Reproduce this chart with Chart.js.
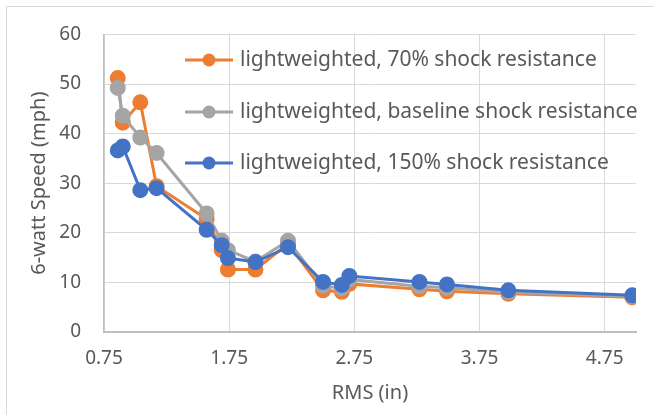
<!DOCTYPE html>
<html>
<head>
<meta charset="utf-8">
<script src="https://cdn.jsdelivr.net/npm/chart.js@4/dist/chart.umd.min.js"></script>
<style>
  html, body { margin: 0; padding: 0; background: #fff; }
  #wrap { width: 654px; height: 415px; }
</style>
</head>
<body>
<div id="wrap"><canvas id="myChart" width="654" height="415"></canvas></div>
<script>
// RMS values (in), same for every series
const rms = [0.86, 0.90, 1.04, 1.17, 1.57, 1.69, 1.74, 1.96, 2.22, 2.50, 2.65, 2.71, 3.27, 3.49, 3.98, 4.97];
const speed70 = [51.2, 42.2, 46.3, 29.4, 22.8, 16.5, 12.6, 12.6, 17.8, 8.4, 8.1, 9.7, 8.6, 8.2, 7.7, 7.0];
const speedBase = [49.2, 43.6, 39.2, 36.1, 23.9, 18.4, 16.5, 14.2, 18.4, 9.3, 8.8, 10.6, 9.2, 8.9, 8.0, 7.2];
const speed150 = [36.6, 37.4, 28.6, 29.0, 20.6, 17.5, 14.9, 14.1, 17.1, 10.1, 9.5, 11.3, 10.1, 9.6, 8.4, 7.4];
const seriesNames = ['lightweighted, 70% shock resistance', 'lightweighted, baseline shock resistance', 'lightweighted, 150% shock resistance'];
const xTicks = [0.75, 1.75, 2.75, 3.75, 4.75];
const yTicks = [0, 10, 20, 30, 40, 50, 60];

const FONT = 'Noto Sans';
const txt = '#595959';

function pts(ys){
  return ys.map((y,i) => ({x: rms[i], y: y}));
}

function mkset(name, ys, color, order){
  return {
    label: name,
    data: pts(ys),
    borderColor: color,
    backgroundColor: color,
    pointBackgroundColor: color,
    pointBorderColor: color,
    borderWidth: 3,
    pointRadius: 6.5,
    pointHoverRadius: 6.5,
    showLine: true,
    tension: 0,
    order: order
  };
}

// legend drawn inside the plot, like the excel one
const insideLegend = {
  id: 'insideLegend',
  afterDatasetsDraw(chart){
    const ctx = chart.ctx;
    const rows = [60, 112, 163];
    ctx.save();
    chart.data.datasets.forEach((ds, i) => {
      const y = rows[i];
      ctx.strokeStyle = ds.borderColor;
      ctx.lineWidth = 3;
      ctx.beginPath();
      ctx.moveTo(185, y);
      ctx.lineTo(233, y);
      ctx.stroke();
      ctx.fillStyle = ds.borderColor;
      ctx.beginPath();
      ctx.arc(209, y, 6.5, 0, Math.PI*2);
      ctx.fill();
      ctx.fillStyle = txt;
      ctx.font = '21px "' + FONT + '"';
      ctx.textBaseline = 'middle';
      ctx.textAlign = 'left';
      ctx.fillText(ds.label, 240, y);
    });
    ctx.restore();
  }
};

const frame = {
  id: 'frame',
  afterDraw(chart){
    const ctx = chart.ctx;
    ctx.save();
    ctx.strokeStyle = '#D9D9D9';
    ctx.lineWidth = 1;
    ctx.strokeRect(6.5, 6.5, 700, 500);
    ctx.restore();
  }
};

const config = {
  type: 'scatter',
  data: {
    datasets: [
      mkset(seriesNames[0], speed70, '#ED7D31', 3),
      mkset(seriesNames[1], speedBase, '#A5A5A5', 2),
      mkset(seriesNames[2], speed150, '#4472C4', 1)
    ]
  },
  options: {
    responsive: false,
    animation: false,
    devicePixelRatio: 1,
    layout: { padding: { left: 0, right: 18, top: 26, bottom: 0 } },
    plugins: {
      legend: { display: false },
      tooltip: { enabled: false }
    },
    scales: {
      x: {
        type: 'linear',
        min: 0.75,
        max: 5.0,
        afterBuildTicks: (s) => { s.ticks = xTicks.map(v => ({value: v})); },
        afterFit: (s) => { s.height = 83; },
        grid: { color: '#D9D9D9', lineWidth: 1, drawTicks: false },
        border: { color: '#BFBFBF', width: 2 },
        ticks: {
          padding: 15,
          color: txt,
          font: { family: FONT, size: 19 },
          callback: (v) => v.toFixed(2)
        },
        title: {
          display: true,
          text: 'RMS (in)',
          color: txt,
          font: { family: FONT, size: 20 },
          padding: { top: 0, bottom: 10 }
        }
      },
      y: {
        min: 0,
        max: 60,
        afterBuildTicks: (s) => { s.ticks = yTicks.map(v => ({value: v})); },
        afterFit: (s) => { s.width = 104; },
        grid: { color: '#D9D9D9', lineWidth: 1, drawTicks: false },
        border: { color: '#BFBFBF', width: 1.5 },
        ticks: {
          padding: 23,
          color: txt,
          font: { family: FONT, size: 19 }
        },
        title: {
          display: true,
          text: '6-watt Speed (mph)',
          color: txt,
          font: { family: FONT, size: 20 },
          padding: { top: 27, bottom: 0 }
        }
      }
    }
  },
  plugins: [insideLegend, frame]
};

var myChart = new Chart(document.getElementById('myChart'), config);
</script>
</body>
</html>
